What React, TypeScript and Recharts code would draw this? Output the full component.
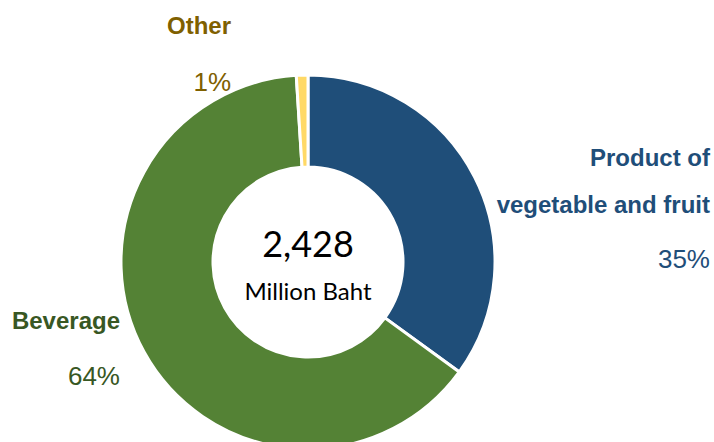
import React from "react";
import { PieChart, Pie, Cell, Label } from "recharts";

const categories = ["Product of vegetable and fruit", "Beverage", "Other"];
const labelLines = [["Product of", "vegetable and fruit"], ["Beverage"], ["Other"]];
const values = [35, 64, 1];
const totalText = "2,428";
const unitText = "Million Baht";

const sliceColors = ["#1F4E79", "#548235", "#FFD966"];
const textColors = ["#1F4E79", "#385723", "#7F6000"];

const data = categories.map((name, i) => ({ name, value: values[i] }));

// label layout: anchor x, baselines of name lines, baseline of percent, anchor
const labelLayout = [
  { x: 710, lines: [166, 213], pct: 268, anchor: "end" },
  { x: 120, lines: [329], pct: 385, anchor: "end" },
  { x: 231, lines: [34], pct: 91, anchor: "end" },
];

const FONT = "'Liberation Sans', Arial, sans-serif";

const renderLabel = (props: any) => {
  const i = props.index;
  const l = labelLayout[i];
  return (
    <g key={`lbl-${i}`}>
      {labelLines[i].map((t, k) => (
        <text
          key={k}
          x={l.x}
          y={l.lines[k]}
          textAnchor={l.anchor}
          fontFamily={FONT}
          fontWeight="bold"
          fontSize={24}
          fill={textColors[i]}
        >
          {t}
        </text>
      ))}
      <text
        x={l.x}
        y={l.pct}
        textAnchor={l.anchor}
        fontFamily={FONT}
        fontSize={26}
        fill={textColors[i]}
      >
        {`${values[i]}%`}
      </text>
    </g>
  );
};

const CenterContent = (props: any) => {
  const vb = props.viewBox || {};
  const cx = vb.cx ?? 308;
  const cy = vb.cy ?? 262;
  return (
    <g>
      <text x={cx} y={cy - 5} textAnchor="middle" fontFamily="Lato, sans-serif" fontSize={36} fill="#000">
        {totalText}
      </text>
      <text x={cx} y={cy + 38} textAnchor="middle" fontFamily="Lato, sans-serif" fontSize={24} fill="#000">
        {unitText}
      </text>
    </g>
  );
};

export default function App() {
  return (
    <div style={{ position: "absolute", left: 0, top: 0, width: 714, height: 442, background: "#fff" }}>
      <PieChart width={714} height={442} margin={{ top: 0, right: 0, bottom: 0, left: 0 }}>
        <Pie
          data={data}
          dataKey="value"
          nameKey="name"
          cx={308}
          cy={262}
          innerRadius={95}
          outerRadius={187}
          startAngle={90}
          endAngle={-270}
          stroke="#fff"
          strokeWidth={3}
          label={renderLabel}
          labelLine={false}
          isAnimationActive={false}
        >
          {data.map((d, i) => (
            <Cell key={d.name} fill={sliceColors[i]} />
          ))}
          <Label position="center" content={<CenterContent />} />
        </Pie>
      </PieChart>
    </div>
  );
}
